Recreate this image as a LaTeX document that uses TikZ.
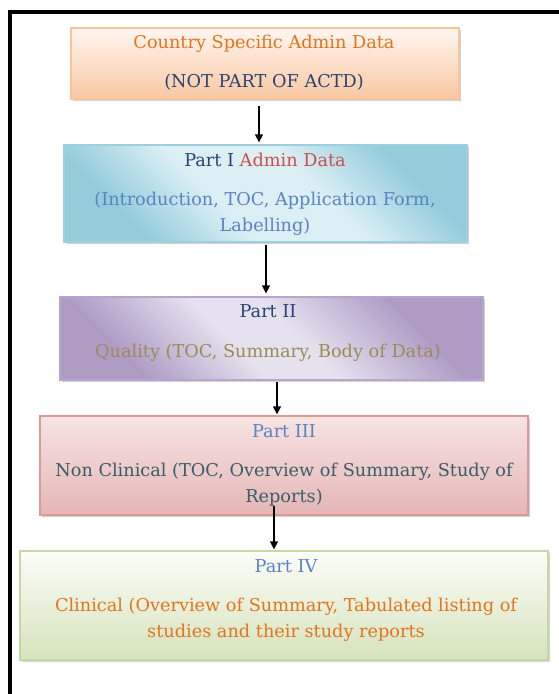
\documentclass[tikz,border=0pt]{standalone}
\usepackage{fontspec}
\setmainfont{DejaVu Serif}
\usetikzlibrary{arrows.meta,shadows}
\definecolor{orTxt}{HTML}{E2741F}
\definecolor{navyTxt}{HTML}{2B4374}
\definecolor{redTxt}{HTML}{C9504C}
\definecolor{blueTxt}{HTML}{5A83C4}
\definecolor{oliveTxt}{HTML}{9A8C58}
\definecolor{tealTxt}{HTML}{3A5E68}
\definecolor{orBorder}{HTML}{F8C49C}
\definecolor{orTop}{HTML}{FFF6F0}
\definecolor{orBot}{HTML}{F9C8A2}
\definecolor{blBorder}{HTML}{9CD0DE}
\definecolor{blDark}{HTML}{94CCDC}
\definecolor{blLight}{HTML}{DCEFF5}
\definecolor{puBorder}{HTML}{B7A6CB}
\definecolor{puDark}{HTML}{AE9CC5}
\definecolor{puLight}{HTML}{E6E1EE}
\definecolor{pkBorder}{HTML}{DA9A98}
\definecolor{pkTop}{HTML}{F6E4E3}
\definecolor{pkBot}{HTML}{E4B6B5}
\definecolor{grBorder}{HTML}{C5D89F}
\definecolor{grTop}{HTML}{FCFDF9}
\definecolor{grBot}{HTML}{D6E3BC}
\pgfdeclareverticalshading{bluediag}{100bp}{color(0bp)=(blDark); color(27bp)=(blDark);
  color(42bp)=(blLight); color(58bp)=(blLight); color(73bp)=(blDark); color(100bp)=(blDark)}
\pgfdeclareverticalshading{purplediag}{100bp}{color(0bp)=(puDark); color(27bp)=(puDark);
  color(44bp)=(puLight); color(54bp)=(puLight); color(72bp)=(puDark); color(100bp)=(puDark)}
\tikzset{
  boxbase/.style={rectangle, inner sep=0pt, line width=1.3pt,
    drop shadow={shadow xshift=2pt, shadow yshift=-2pt, fill=black!35, opacity=0.5}},
  txt/.style={align=center, inner sep=0pt, font=\fontsize{17.7}{26}\selectfont},
  arr/.style={line width=1.3pt, -{Triangle[width=8pt,length=8pt]}},
  frame/.style={line width=4pt, line join=miter}
}
\begin{document}
\begin{tikzpicture}[x=1pt,y=-1pt]
\useasboundingbox (0,0) rectangle (559,694);
% frame
\coordinate (fA) at (10,694);
\coordinate (fB) at (10,12);
\coordinate (fC) at (559,12);
\draw[frame] (fA) -- (fB) -- (fC);

% boxes
\node[boxbase, draw=orBorder, top color=orTop, bottom color=orBot,
  minimum width=388pt, minimum height=71pt] (b1) at (265,63.5) {};
\node[boxbase, draw=blBorder, shading=bluediag, shading angle=-45,
  minimum width=403pt, minimum height=97pt] (b2) at (265.5,193.5) {};
\node[boxbase, draw=puBorder, shading=purplediag, shading angle=-45,
  minimum width=423pt, minimum height=83pt] (b3) at (271.5,338.5) {};
\node[boxbase, draw=pkBorder, top color=pkTop, bottom color=pkBot,
  minimum width=488pt, minimum height=99pt] (b4) at (284,465.5) {};
\node[boxbase, draw=grBorder, top color=grTop, bottom color=grBot,
  minimum width=528pt, minimum height=109pt] (b5) at (284,605.5) {};

% texts
\node[txt] (t1) at (264,62.5) {\textcolor{orTxt}{Country Specific Admin Data}\\[13pt]
  \textcolor{navyTxt}{(NOT PART OF ACTD)}};
\node[txt] (t2) at (265,194.5) {\textcolor{navyTxt}{Part I} \textcolor{redTxt}{Admin Data}\\[13pt]
  \textcolor{blueTxt}{(Introduction, TOC, Application Form,}\\
  \textcolor{blueTxt}{Labelling)}};
\node[txt] (t3) at (268,333.5) {\textcolor{navyTxt}{Part II}\\[14pt]
  \textcolor{oliveTxt}{Quality (TOC, Summary, Body of Data)}};
\node[txt] (t4) at (284,465) {\textcolor{blueTxt}{Part III}\\[13pt]
  \textcolor{tealTxt}{Non Clinical (TOC, Overview of Summary, Study of}\\
  \textcolor{tealTxt}{Reports)}};
\node[txt] (t5) at (286,600.5) {\textcolor{blueTxt}{Part IV}\\[13pt]
  \textcolor{orTxt}{Clinical (Overview of Summary, Tabulated listing of}\\
  \textcolor{orTxt}{studies and their study reports}};

% arrows
\coordinate (x1) at (259,0);
\coordinate (x2) at (266,0);
\coordinate (x3) at (277,0);
\coordinate (x4) at (274,0);
\draw[arr] ([yshift=-6pt]b1.south -| x1) -- ([yshift=2pt]b2.north -| x1);
\draw[arr] ([yshift=-2pt]b2.south -| x2) -- ([yshift=3pt]b3.north -| x2);
\draw[arr] ([yshift=-1pt]b3.south -| x3) -- ([yshift=1pt]b4.north -| x3);
\draw[arr] ([yshift=10pt]b4.south -| x4) -- ([yshift=1pt]b5.north -| x4);
\end{tikzpicture}
\end{document}
